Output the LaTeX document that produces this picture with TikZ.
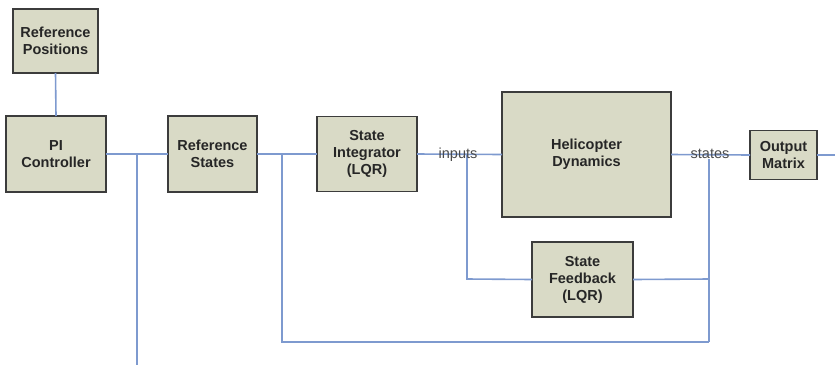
\documentclass[tikz,border=0pt]{standalone}
\usepackage{fontspec}
\setmainfont{Liberation Sans}
\definecolor{boxfill}{HTML}{D9DAC6}
\definecolor{boxline}{HTML}{3C3C3C}
\definecolor{wire}{HTML}{7E9ACF}
\definecolor{lbl}{HTML}{4A4A4A}
\definecolor{txt}{HTML}{262626}
\tikzset{
  blk/.style={draw=boxline, line width=1.6bp, fill=boxfill, align=center,
    font=\bfseries\fontsize{14.5bp}{17bp}\selectfont, text=txt, inner sep=0pt, outer sep=0pt},
  wireline/.style={draw=wire, line width=1.6bp},
  sig/.style={font=\fontsize{14.5bp}{16bp}\selectfont, text=lbl, inner sep=0.5bp}
}
\begin{document}
\begin{tikzpicture}[x=1bp,y=-1bp]
\useasboundingbox (0,0) rectangle (835,364);
\node[blk, minimum width=85bp, minimum height=64bp] (refpos) at (55.5,41) {Reference\\Positions};
\node[blk, minimum width=100bp, minimum height=76bp] (pi) at (56,154) {PI\\Controller};
\node[blk, minimum width=89bp, minimum height=76bp] (refst) at (212.5,154) {Reference\\States};
\node[blk, minimum width=100bp, minimum height=75bp] (sint) at (367,154) {State\\Integrator\\(LQR)};
\node[blk, minimum width=169bp, minimum height=125bp] (heli) at (586.5,154.5) {Helicopter\\Dynamics};
\node[blk, minimum width=101bp, minimum height=75bp] (sfb) at (582.5,279.5) {State\\Feedback\\(LQR)};
\node[blk, minimum width=67bp, minimum height=49bp] (outm) at (783.5,155) {Output\\Matrix};
\coordinate (b1) at (137,154);
\coordinate (b1e) at (137,366);
\coordinate (b2) at (282,154);
\coordinate (b2d) at (282,342);
\coordinate (b3) at (467,154);
\coordinate (b3d) at (467,279);
\coordinate (b4d) at (709,342);
\coordinate (b4m) at (709,279);
\coordinate (outend) at (836,155);
\draw[wireline] (refpos.south) -- (pi.north);
\draw[wireline] (pi.east) -- (refst.west);
\draw[wireline] (b1) -- (b1e);
\draw[wireline] (refst.east) -- (sint.west);
\draw[wireline] (b2) -- (b2d) -- (b4d);
\draw[wireline] (sint.east) -- (heli.west);
\draw[wireline] (b3) -- (b3d) -- (sfb.west);
\draw[wireline] (sfb.east) -- (b4m);
\draw[wireline] (heli.east) -- (outm.west);
\draw[wireline] (outm.east) -- (outend);
\node[sig, anchor=base] (inp) at (458,158.5) {inputs};
\node[sig, anchor=base] (sts) at (710,158.5) {states};
\draw[wireline] (sts.south -| b4d) -- (b4d);
\end{tikzpicture}
\end{document}
